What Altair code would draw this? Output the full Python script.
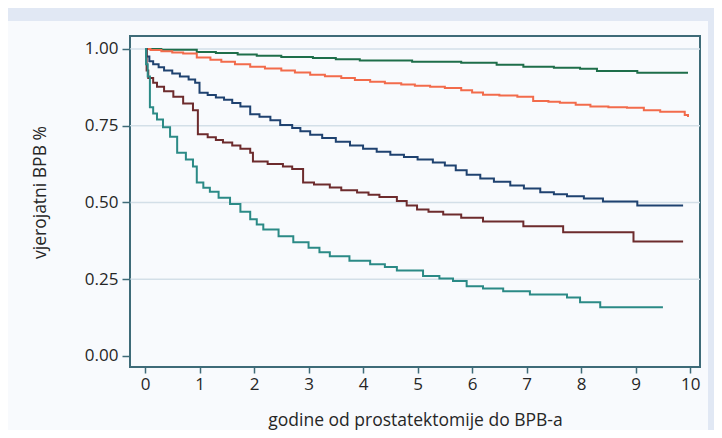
import altair as alt
import pandas as pd

# ---- data ----
green_t = [0, 0.3, 0.95, 1.3, 1.7, 2.05, 2.5, 3.08, 3.5, 3.94, 4.9, 5.8, 6.45, 6.94, 7.5, 7.98, 8.29, 9.03, 9.96]
green_s = [1.0, 0.997, 0.99, 0.987, 0.982, 0.978, 0.974, 0.97, 0.966, 0.962, 0.958, 0.955, 0.948, 0.942, 0.939, 0.935, 0.928, 0.922, 0.922]

orange_t = [0, 0.1, 0.3, 0.5, 0.7, 0.95, 1.2, 1.4, 1.65, 1.93, 2.2, 2.5, 2.75, 3.03, 3.3, 3.6, 3.85, 4.13, 4.4,
            4.7, 4.95, 5.23, 5.5, 5.8, 6.0, 6.2, 6.5, 6.83, 7.12, 7.4, 7.61, 7.9, 8.17, 8.5, 8.84, 9.15, 9.45,
            9.9, 9.96]
orange_s = [1.0, 0.996, 0.992, 0.988, 0.985, 0.972, 0.965, 0.958, 0.95, 0.942, 0.936, 0.93, 0.923, 0.916, 0.911,
            0.905, 0.899, 0.893, 0.888, 0.884, 0.88, 0.877, 0.873, 0.865, 0.858, 0.851, 0.848, 0.844, 0.83, 0.828,
            0.825, 0.818, 0.812, 0.81, 0.808, 0.8, 0.795, 0.785, 0.778]

blue_t = [0, 0.03, 0.08, 0.15, 0.25, 0.35, 0.5, 0.64, 0.8, 0.92, 1.0, 1.15, 1.3, 1.45, 1.6, 1.75, 1.93, 2.1, 2.3,
          2.48, 2.7, 2.85, 3.03, 3.25, 3.5, 3.76, 4.0, 4.25, 4.5, 4.75, 5.0, 5.28, 5.5, 5.7, 5.9, 6.15, 6.4, 6.7,
          6.95, 7.25, 7.5, 7.74, 8.05, 8.4, 9.03, 9.87]
blue_s = [1.0, 0.975, 0.96, 0.95, 0.94, 0.93, 0.92, 0.91, 0.9, 0.89, 0.857, 0.85, 0.842, 0.834, 0.824, 0.812,
          0.787, 0.779, 0.768, 0.752, 0.742, 0.732, 0.72, 0.71, 0.698, 0.685, 0.675, 0.665, 0.655, 0.648, 0.64,
          0.63, 0.62, 0.605, 0.59, 0.578, 0.567, 0.555, 0.545, 0.533, 0.527, 0.52, 0.513, 0.503, 0.49, 0.49]

red_t = [0, 0.03, 0.06, 0.15, 0.22, 0.35, 0.52, 0.7, 0.88, 0.97, 1.15, 1.3, 1.43, 1.6, 1.75, 1.93, 1.98, 2.25,
         2.53, 2.7, 2.9, 3.1, 3.39, 3.6, 3.89, 4.1, 4.3, 4.62, 4.8, 4.99, 5.2, 5.47, 5.8, 6.2, 6.94, 7.67, 8.96,
         9.87]
red_s = [1.0, 0.93, 0.905, 0.89, 0.877, 0.862, 0.844, 0.822, 0.80, 0.722, 0.712, 0.703, 0.695, 0.685, 0.675,
         0.662, 0.633, 0.625, 0.617, 0.609, 0.565, 0.558, 0.549, 0.54, 0.532, 0.525, 0.518, 0.505, 0.49, 0.477,
         0.47, 0.461, 0.45, 0.438, 0.422, 0.403, 0.373, 0.373]

teal_t = [0, 0.02, 0.05, 0.09, 0.15, 0.22, 0.33, 0.46, 0.59, 0.75, 0.88, 0.95, 1.07, 1.19, 1.35, 1.56, 1.75, 1.93,
          2.05, 2.17, 2.45, 2.72, 3.0, 3.2, 3.39, 3.75, 4.13, 4.4, 4.62, 5.1, 5.4, 5.65, 5.9, 6.2, 6.57, 7.06,
          7.74, 7.98, 8.35, 9.5]
teal_s = [1.0, 0.95, 0.91, 0.81, 0.79, 0.77, 0.745, 0.714, 0.662, 0.64, 0.617, 0.565, 0.548, 0.535, 0.515, 0.495,
          0.47, 0.445, 0.428, 0.412, 0.39, 0.37, 0.352, 0.338, 0.325, 0.31, 0.299, 0.29, 0.278, 0.26, 0.252,
          0.244, 0.227, 0.22, 0.211, 0.2, 0.19, 0.175, 0.159, 0.159]

series_names = ["g1", "g2", "g3", "g4", "g5"]
series_colors = ["#1e6e4a", "#f26b4b", "#1f4270", "#6d2b2d", "#2b8a86"]

x_ticks = [0, 1, 2, 3, 4, 5, 6, 7, 8, 9, 10]
y_ticks = [0, 0.25, 0.5, 0.75, 1.0]
grid_vals = [0.25, 0.5, 0.75, 1.0]

rows = []
for name, ts, ss in zip(series_names,
                        [green_t, orange_t, blue_t, red_t, teal_t],
                        [green_s, orange_s, blue_s, red_s, teal_s]):
    for i, (t, s) in enumerate(zip(ts, ss)):
        rows.append({"serija": name, "t": t, "s": s, "i": i})
df = pd.DataFrame(rows)
grid_df = pd.DataFrame({"s": grid_vals})

FONT = "Open Sans"
FRAME = "#3e6b78"
TXT = "#262626"

xscale = alt.Scale(domain=[-0.275, 10.18], nice=False, zero=False)
yscale = alt.Scale(domain=[-0.036, 1.042], nice=False, zero=False)

y_axis = alt.Axis(values=y_ticks, format=".2f", title="vjerojatni BPB %",
                  grid=False, domain=False, tickSize=8, tickWidth=1.5,
                  tickColor=FRAME, labelPadding=4, labelFontSize=17,
                  labelFont=FONT, labelColor=TXT, titleFont=FONT,
                  titleFontSize=17.5, titleFontWeight="normal", titleColor=TXT,
                  titleX=-90, titleY=156, titleAngle=-90,
                  titleBaseline="middle", zindex=1)
x_axis = alt.Axis(values=x_ticks, title="godine od prostatektomije do BPB-a",
                  grid=False, domain=False, tickSize=6, tickWidth=1.5,
                  tickColor=FRAME, labelPadding=3, labelFontSize=17,
                  labelFont=FONT, labelColor=TXT, titleFont=FONT,
                  titleFontSize=17.5, titleFontWeight="normal", titleColor=TXT,
                  titleY=58, titleBaseline="alphabetic", zindex=1)

# decorative page band (light blue) at top and right
band_top = alt.Chart(alt.Data(values=[{}])).mark_rect(color="#e1e8f4").encode(
    x=alt.value(-122), x2=alt.value(584), y=alt.value(-28), y2=alt.value(-15)
)
band_right = alt.Chart(alt.Data(values=[{}])).mark_rect(color="#e1e8f4").encode(
    x=alt.value(578), x2=alt.value(584), y=alt.value(-15), y2=alt.value(394)
)

grid = alt.Chart(grid_df).mark_rule(color="#d3dfe8", strokeWidth=1.5).encode(
    y=alt.Y("s:Q", scale=yscale, axis=y_axis)
)

lines = alt.Chart(df).mark_line(interpolate="step-after", strokeWidth=2).encode(
    x=alt.X("t:Q", scale=xscale, axis=x_axis),
    y=alt.Y("s:Q", scale=yscale, axis=y_axis),
    color=alt.Color("serija:N", scale=alt.Scale(domain=series_names, range=series_colors),
                    legend=None),
    order="i:Q",
)

chart = alt.layer(band_top, band_right, grid, lines).properties(
    width=570, height=331,
    background="#f8fafd",
    padding={"left": 122, "top": 28, "right": 14, "bottom": 63},
    autosize=alt.AutoSizeParams(type="none"),
).configure_view(stroke=FRAME, strokeWidth=2)

chart.save("out.html", embed_options={"renderer": "svg", "actions": False})
